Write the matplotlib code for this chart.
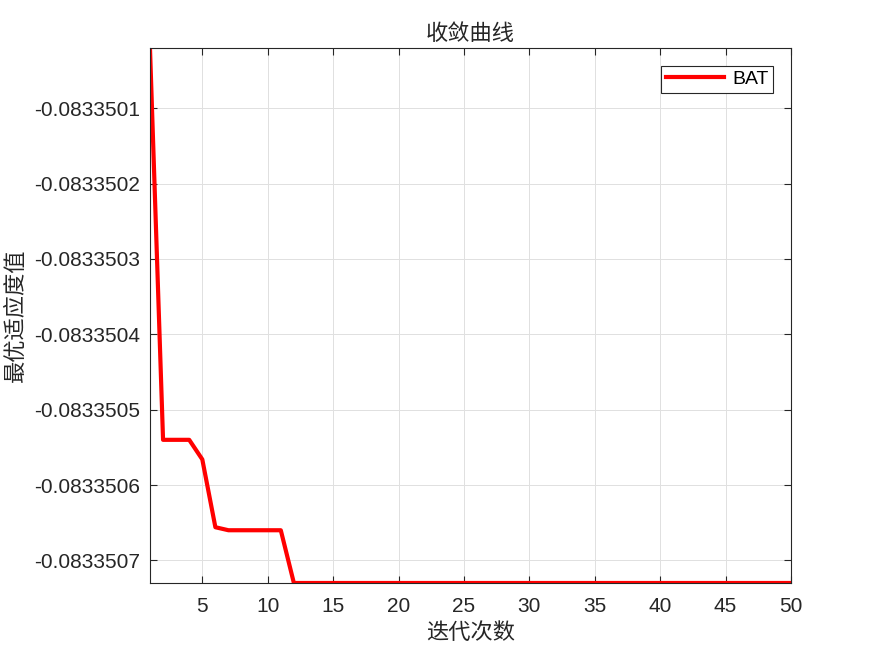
import matplotlib
matplotlib.use('Agg')
import matplotlib.pyplot as plt
import numpy as np
from matplotlib.ticker import FormatStrFormatter, MultipleLocator

# DATA
iterations = np.arange(1, 51)
best_fitness = np.array(
    [-0.08335002]
    + [-0.08335054] * 3
    + [-0.083350566]
    + [-0.083350656]
    + [-0.08335066] * 5
    + [-0.08335073] * 39
)
series_label = 'BAT'
title_text = '收敛曲线'
x_label = '迭代次数'
y_label = '最优适应度值'

plt.rcParams['font.family'] = ['Liberation Sans', 'Noto Sans CJK SC']

fig = plt.figure(figsize=(8.75, 6.56), dpi=100)
ax = fig.add_axes([0.1714, 0.1113, 0.7326, 0.8155])

ax.plot(iterations, best_fitness, color='#ff0000', linewidth=3, label=series_label)

ax.set_xlim(iterations.min(), iterations.max())
ax.set_ylim(best_fitness.min(), best_fitness.max())
ax.xaxis.set_major_locator(MultipleLocator(5))
ax.yaxis.set_major_locator(MultipleLocator(1e-7))
ax.yaxis.set_major_formatter(FormatStrFormatter('%.7f'))

ax.grid(True, color='#e0e0e0', linewidth=0.7)
ax.set_axisbelow(True)
ax.tick_params(direction='in', labelsize=15, colors='#262626', length=5, width=0.8,
               top=True, right=True, pad=7)
ax.tick_params(axis='x', pad=10)
for sp in ax.spines.values():
    sp.set_color('#262626')
    sp.set_linewidth(0.8)

cjk = ['Noto Sans CJK SC', 'DejaVu Sans']
ax.set_title(title_text, fontsize=16, family=cjk, color='#262626', pad=6)
ax.set_xlabel(x_label, fontsize=16, family=cjk, color='#262626', labelpad=4)
ax.set_ylabel(y_label, fontsize=16, family=cjk, color='#262626', labelpad=5)

leg = ax.legend(loc='upper right', fontsize=14, fancybox=False, framealpha=1,
                edgecolor='#262626', borderpad=0.25, handlelength=3.0,
                handletextpad=0.4, bbox_to_anchor=(0.9875, 0.985))
leg.get_frame().set_linewidth(0.8)

fig.savefig('out.png', dpi=100)
